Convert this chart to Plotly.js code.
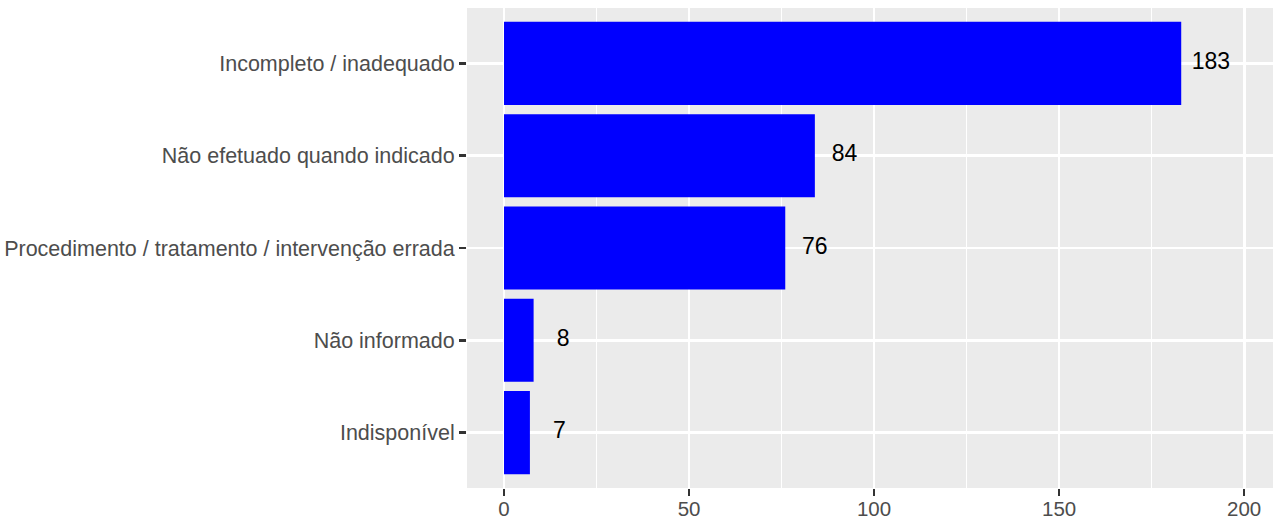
<!DOCTYPE html>
<html>
<head>
<meta charset="utf-8">
<script src="https://cdn.plot.ly/plotly-3.0.1.min.js"></script>
<style>html,body{margin:0;padding:0;background:#fff;}#chart{width:1279px;height:520px;}</style>
</head>
<body>
<div id="chart"></div>
<script>
const categories = [
  "Incompleto / inadequado",
  "Não efetuado quando indicado",
  "Procedimento / tratamento / intervenção errada",
  "Não informado",
  "Indisponível"
];
const counts = [183, 84, 76, 8, 7];
const xTicks = [0, 50, 100, 150, 200];

const labelOffset = 8;
const font = "Liberation Sans, Arial, Helvetica, sans-serif";

const bars = {
  type: "bar",
  orientation: "h",
  y: categories,
  x: counts,
  width: 0.9,
  marker: {color: "#0000FF", line: {width: 0}},
  hoverinfo: "skip"
};
const labels = {
  type: "scatter",
  mode: "text",
  y: categories,
  x: counts.map(v => v + labelOffset),
  text: counts.map(String),
  textposition: "middle center",
  textfont: {family: font, size: 23, color: "#000000"},
  hoverinfo: "skip",
  cliponaxis: false
};

const layout = {
  width: 1279, height: 520,
  margin: {l: 467, r: 6, t: 8, b: 32, pad: 0},
  paper_bgcolor: "#FFFFFF",
  plot_bgcolor: "#EBEBEB",
  showlegend: false,
  font: {family: font},
  xaxis: {
    range: [-10, 207.8],
    tickmode: "array",
    tickvals: xTicks,
    ticktext: xTicks.map(String),
    showgrid: true, gridcolor: "#FFFFFF", gridwidth: 2.8,
    minor: {dtick: 25, tick0: 0, showgrid: true, gridcolor: "#FFFFFF", gridwidth: 1.4},
    zeroline: false, showline: false,
    ticks: "outside", ticklen: 7, tickwidth: 2.5, tickcolor: "#333333",
    ticklabelstandoff: -5,
    tickfont: {family: font, size: 20.5, color: "#4D4D4D"}
  },
  yaxis: {
    type: "category",
    categoryorder: "array",
    categoryarray: categories,
    range: [4.6, -0.6],
    showgrid: true, gridcolor: "#FFFFFF", gridwidth: 2.8,
    zeroline: false, showline: false,
    ticks: "outside", ticklen: 7, tickwidth: 2.5, tickcolor: "#333333",
    ticklabelstandoff: 0,
    tickfont: {family: font, size: 21.5, color: "#4D4D4D"}
  },
  hovermode: false
};

Plotly.newPlot("chart", [bars, labels], layout, {displayModeBar: false, staticPlot: true});
</script>
</body>
</html>
